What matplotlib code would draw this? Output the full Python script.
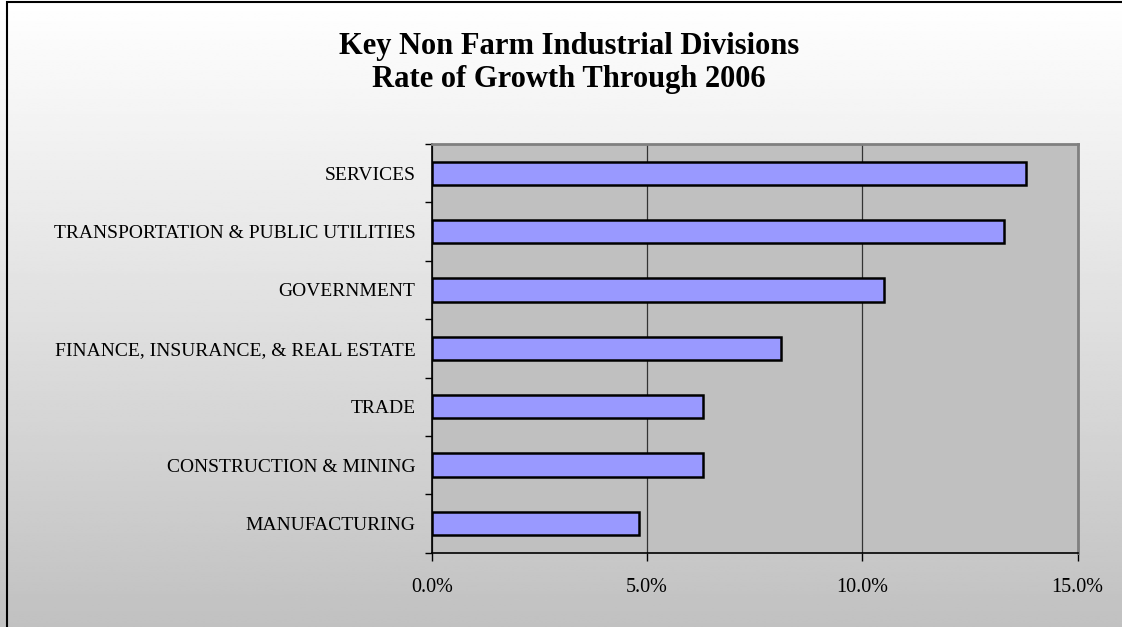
import numpy as np
import matplotlib
matplotlib.use("Agg")
import matplotlib.pyplot as plt
from matplotlib.patches import Rectangle
from matplotlib.ticker import FuncFormatter, FixedLocator

categories = [
    "SERVICES",
    "TRANSPORTATION & PUBLIC UTILITIES",
    "GOVERNMENT",
    "FINANCE, INSURANCE, & REAL ESTATE",
    "TRADE",
    "CONSTRUCTION & MINING",
    "MANUFACTURING",
]
growth_pct = [13.8, 13.3, 10.5, 8.1, 6.3, 6.3, 4.8]
x_ticks = [0, 5, 10, 15]
title_text = "Key Non Farm Industrial Divisions\nRate of Growth Through 2006"

plt.rcParams['font.family'] = ['Liberation Serif', 'DejaVu Serif']

W, H = 1122, 627
fig = plt.figure(figsize=(W / 100, H / 100), dpi=100)

# gradient background
bg = fig.add_axes([0, 0, 1, 1], zorder=-10)
grad = np.linspace(255, 193, 256) / 255.0
img = np.repeat(grad[:, None], 2, axis=1)
bg.imshow(img, cmap='gray', vmin=0, vmax=1, aspect='auto', extent=[0, 1, 0, 1],
          interpolation='bilinear')
bg.set_xlim(0, 1)
bg.set_ylim(0, 1)
bg.axis('off')

# chart border
fig.patches.append(Rectangle((7 / W, -0.01), 1.1, 1 - 2 / H + 0.01, transform=fig.transFigure,
                             fill=False, edgecolor='black', linewidth=1.5, zorder=5))

ax = fig.add_axes([432 / W, 1 - 552.7 / H, (1077.5 - 432) / W, (552.7 - 144) / H])
ax.set_facecolor('#c0c0c0')

n = len(categories)
ypos = np.arange(n)
ax.barh(ypos, growth_pct, height=0.4, color='#9999ff', edgecolor='black',
        linewidth=1.8, zorder=3)
ax.set_ylim(n - 0.5, -0.5)
ax.set_xlim(0, 15)

ax.set_yticks(ypos)
ax.set_yticklabels(categories, fontsize=14)
ax.tick_params(axis='y', which='major', length=0, pad=12)
ax.yaxis.set_minor_locator(FixedLocator(np.arange(-0.5, n, 1.0)))
ax.tick_params(axis='y', which='minor', length=5, width=1, color='black', direction='out')

ax.xaxis.set_major_locator(FixedLocator(x_ticks))
ax.xaxis.set_major_formatter(FuncFormatter(lambda v, p: f"{v:.1f}%"))
ax.tick_params(axis='x', which='major', length=6, width=1, pad=12, labelsize=14.5,
               direction='out')

ax.grid(axis='x', color='#333333', linewidth=0.9, zorder=1)
ax.set_axisbelow(True)

ax.spines['left'].set_color('black')
ax.spines['bottom'].set_color('black')
ax.spines['left'].set_linewidth(1.2)
ax.spines['bottom'].set_linewidth(1.2)
ax.spines['top'].set_color('#808080')
ax.spines['right'].set_color('#808080')
ax.spines['top'].set_linewidth(2)
ax.spines['right'].set_linewidth(2)

fig.text(569 / W, 1 - 63 / H, title_text, ha='center', va='center', fontsize=22,
         fontweight='bold', linespacing=1.22)

fig.savefig("out.png", dpi=100)
